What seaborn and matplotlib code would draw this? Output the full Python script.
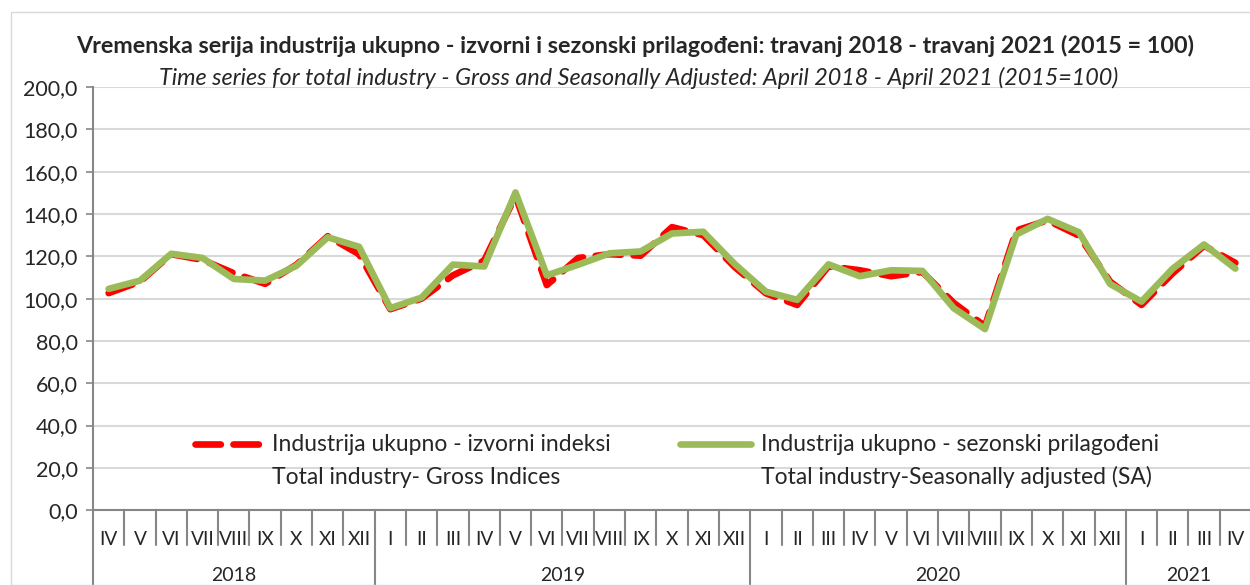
import numpy as np
import pandas as pd
import matplotlib
matplotlib.use("Agg")
import matplotlib.pyplot as plt
import matplotlib.transforms as mtransforms
from matplotlib.patches import Rectangle
import seaborn as sns

# April 2018 - April 2021, monthly
months = ["IV", "V", "VI", "VII", "VIII", "IX", "X", "XI", "XII",
          "I", "II", "III", "IV", "V", "VI", "VII", "VIII", "IX", "X", "XI", "XII",
          "I", "II", "III", "IV", "V", "VI", "VII", "VIII", "IX", "X", "XI", "XII",
          "I", "II", "III", "IV"]
years = ["2018", "2019", "2020", "2021"]
year_counts = [9, 12, 12, 4]

gross = [102.6, 108.0, 121.0, 118.3, 112.0, 107.0, 116.0, 129.5, 121.0,
         95.0, 100.0, 111.0, 118.0, 148.5, 106.4, 119.2, 121.0, 120.3, 133.8, 130.0, 115.0,
         102.5, 97.0, 115.3, 113.4, 110.6, 112.6, 98.0, 87.0, 132.2, 137.0, 129.8, 108.0,
         97.0, 112.0, 125.0, 116.9]
seasonal = [104.6, 108.5, 121.2, 119.2, 109.3, 108.5, 115.5, 129.0, 124.5,
            95.5, 100.5, 116.1, 115.2, 150.2, 111.0, 116.0, 121.4, 122.3, 130.8, 131.6, 116.4,
            103.3, 99.4, 116.2, 110.6, 113.4, 113.1, 95.5, 85.6, 130.3, 137.7, 131.4, 106.9,
            98.6, 114.2, 125.6, 114.2]

df = pd.DataFrame({"idx": np.arange(len(months)), "gross": gross, "sa": seasonal})

sns.set_theme(style="white")
plt.rcParams["font.family"] = ["Lato", "DejaVu Sans"]

fig = plt.figure(figsize=(12.5, 5.85), dpi=100)
ax = fig.add_axes([0.0744, 0.128, 0.9264, 0.7231])

red = "#ff0000"
green = "#9bbb59"

sns.lineplot(data=df, x="idx", y="gross", ax=ax, color=red, linewidth=4.8,
             linestyle="--", dash_capstyle="round")
ax.lines[-1].set_dashes((3.8, 1.9))
sns.lineplot(data=df, x="idx", y="sa", ax=ax, color=green, linewidth=4.8,
             solid_capstyle="round", solid_joinstyle="round")

ax.set_xlim(-0.5, len(months) - 0.5)
ax.set_ylim(0, 200)
ax.set_yticks(np.arange(0, 201, 20))
ax.set_yticklabels([f"{v:.1f}".replace(".", ",") for v in np.arange(0, 201, 20)], fontsize=15.5)
ax.yaxis.grid(True, color="#d9d9d9", linewidth=1.5)
ax.set_axisbelow(True)
ax.tick_params(axis="y", length=5, width=1.2, color="#868686", pad=6, left=True)
ax.set_xticks(df["idx"])
ax.set_xticklabels(months, fontsize=13.8)
ax.tick_params(axis="x", length=0, pad=15)
ax.set_xlabel("")
ax.set_ylabel("")
for s in ["top", "right"]:
    ax.spines[s].set_visible(False)
for s in ["left", "bottom"]:
    ax.spines[s].set_color("#868686")
    ax.spines[s].set_linewidth(1.5)

# category separators below the axis
trans = mtransforms.blended_transform_factory(ax.transData, ax.transAxes)
bounds = np.cumsum([0] + year_counts) - 0.5
for b in np.arange(-0.5, len(months), 1.0):
    bottom = -0.19 if np.any(np.isclose(bounds, b)) else -0.083
    ax.plot([b, b], [0, bottom], transform=trans, color="#868686", lw=1.5,
            clip_on=False)
start = 0
for yr, n in zip(years, year_counts):
    ax.text(start + (n - 1) / 2, -0.155, yr, transform=trans, ha="center",
            va="center", fontsize=14)
    start += n

# legend (handle beside the first line of each two-line label)
items = [(red, True, 0.088, 0.146, 0.155,
          "Industrija ukupno - izvorni indeksi", "Total industry- Gross Indices"),
         (green, False, 0.507, 0.568, 0.5765,
          "Industrija ukupno - sezonski prilagođeni", "Total industry-Seasonally adjusted (SA)")]
for col, dashed, x0, x1, xt, l1, l2 in items:
    ln, = ax.plot([x0, x1], [0.156, 0.156], transform=ax.transAxes, color=col,
                  lw=4.8, clip_on=False,
                  solid_capstyle="round", dash_capstyle="round")
    if dashed:
        ln.set_dashes((3.8, 1.9))
    ax.text(xt, 0.156, l1, transform=ax.transAxes, va="center", fontsize=16.5)
    ax.text(xt, 0.078, l2, transform=ax.transAxes, va="center", fontsize=16.5)

fig.text(0.508, 0.921,
         "Vremenska serija industrija ukupno - izvorni i sezonski prilagođeni: "
         "travanj 2018 - travanj 2021 (2015 = 100)",
         ha="center", va="center", fontsize=16.8, fontweight="bold")
fig.text(0.511, 0.866,
         "Time series for total industry - Gross and Seasonally Adjusted: "
         "April 2018 - April 2021 (2015=100)",
         ha="center", va="center", fontsize=16.8, style="italic")

fig.patches.append(Rectangle((0.009, 0.0), 0.995, 0.98, transform=fig.transFigure,
                             fill=False, edgecolor="#d9d9d9", lw=1))

fig.savefig("out.png", dpi=100)
